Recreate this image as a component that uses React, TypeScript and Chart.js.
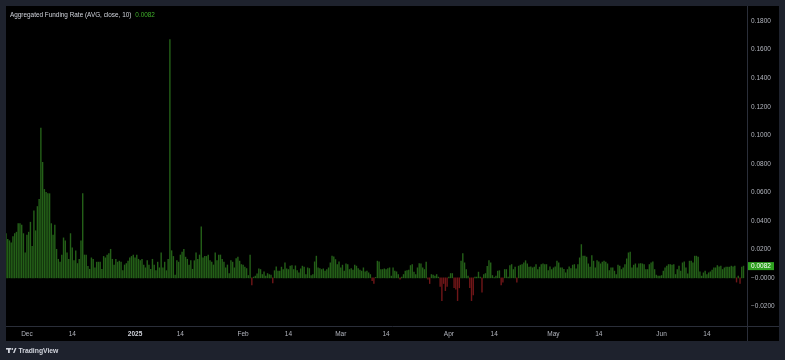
import React, { useEffect, useRef } from 'react';
import { Chart, registerables } from 'chart.js';

Chart.register(...registerables);

// 12-hour funding-rate bars, Nov 25 2024 → Jun 24 2025
const NOV = [0.031, 0.027, 0.026, 0.0245, 0.029, 0.031, 0.032, 0.038, 0.038, 0.037, 0.031, 0.0175];
const DEC = [
  0.030, 0.032, 0.039, 0.022, 0.047, 0.033, 0.050, 0.055, 0.105, 0.081,
  0.062, 0.060, 0.059, 0.059, 0.038, 0.030, 0.037, 0.020, 0.013, 0.011,
  0.016, 0.028, 0.026, 0.0175, 0.013, 0.031, 0.021, 0.012, 0.019, 0.010,
  0.013, 0.026, 0.059, 0.016, 0.016, 0.008, 0.006, 0.014, 0.013, 0.007,
  0.011, 0.011, 0.011, 0.006, 0.015, 0.014, 0.016, 0.017, 0.020, 0.013,
  0.009, 0.013, 0.011, 0.0117, 0.011, 0.005, 0.009, 0.010, 0.0117, 0.014,
  0.015, 0.016,
];
const JAN = [
  0.014, 0.016, 0.013, 0.012, 0.013, 0.009, 0.007, 0.012, 0.009, 0.006,
  0.013, 0.009, 0.005, 0.011, 0.007, 0.0175, 0.007, 0.011, 0.005, 0.013,
  0.167, 0.019, 0.015, 0.002, 0.012, 0.011, 0.016, 0.018, 0.020, 0.0145,
  0.013, 0.009, 0.012, 0.006, 0.012, 0.0175, 0.013, 0.016, 0.0357, 0.014,
  0.015, 0.015, 0.016, 0.012, 0.011, 0.009, 0.0175, 0.012, 0.016, 0.016,
  0.013, 0.011, 0.007, 0.009, 0.003, 0.012, 0.011, 0.007, 0.0135, 0.0145,
  0.0117, 0.0093,
];
const FEB = [
  0.0089, 0.0075, 0.0065, 0.0016, 0.016, -0.005, 0.0005, 0.0012, 0.0028, 0.0063,
  0.0058, 0.0023, 0.0042, 0.0012, 0.003, 0.0023, 0.0019, -0.0035, 0.005, 0.0077,
  0.0047, 0.0047, 0.0075, 0.0058, 0.0105, 0.0063, 0.0058, 0.0082, 0.0086, 0.0058,
  0.0084, 0.005, 0.0035, 0.0063, 0.0082, 0.0075, 0.0023, 0.007, 0.0065, 0.0016,
  0.0023, 0.0112, 0.0152, 0.007, 0.0065, 0.0058, 0.0063, 0.0047, 0.0058, 0.007,
  0.0105, 0.0152, 0.0147, 0.0128, 0.0093, 0.0112,
];
const MAR = [
  0.007, 0.0089, 0.0047, 0.0098, 0.0093, 0.0058, 0.0065, 0.0054, 0.0089, 0.0082,
  0.0065, 0.0054, 0.0047, 0.007, 0.0042, 0.0047, 0.0035, 0.0023, -0.002, -0.004,
  0.0003, 0.0117, 0.0112, 0.0058, 0.0058, 0.0063, 0.0058, 0.0065, 0.007, 0.0012,
  0.007, 0.0047, 0.0042, 0.0023, -0.001, 0.0005, 0.0023, 0.0047, 0.005, 0.0054,
  0.0086, 0.0093, 0.004, 0.0023, 0.007, 0.01, 0.0098, 0.007, 0.0058, 0.011,
  -0.001, -0.004, 0.0023, 0.0019, 0.0012, 0.0023, 0.0005, -0.006, -0.016, -0.004,
  -0.009, -0.006,
];
const APR = [
  0.0005, 0.003, 0.003, -0.007, -0.008, -0.016, -0.007, 0.0117, 0.017, 0.0105,
  0.0058, 0.0012, -0.007, -0.016, -0.012, 0.0005, 0.0005, 0.004, 0.0005, -0.01,
  0.0023, 0.003, 0.008, 0.012, 0.0105, 0.0016, 0.0002, 0.0012, 0.0047, 0.005,
  -0.005, -0.003, 0.0058, 0.0058, 0.0005, 0.0086, 0.0093, 0.0058, 0.0075, -0.003,
  0.0082, 0.0089, 0.0093, 0.0105, 0.012, 0.0098, 0.0075, 0.0077, 0.007, 0.0075,
  0.0093, 0.0058, 0.0075, 0.0093, 0.0098, 0.0093, 0.0093, 0.005, 0.0077, 0.0058,
];
const MAY = [
  0.007, 0.0077, 0.0117, 0.0105, 0.007, 0.007, 0.006, 0.0035, 0.0058, 0.0077,
  0.0065, 0.0089, 0.0093, 0.0063, 0.0093, 0.014, 0.0233, 0.0152, 0.0152, 0.0145,
  0.0098, 0.0075, 0.0156, 0.0117, 0.007, 0.012, 0.0112, 0.0098, 0.011, 0.0117,
  0.011, 0.0098, 0.005, 0.007, 0.007, 0.0047, 0.0023, 0.0089, 0.0082, 0.0058,
  0.007, 0.0093, 0.0133, 0.0175, 0.018, 0.007, 0.0089, 0.0098, 0.007, 0.0098,
  0.01, 0.0098, 0.0093, 0.0058, 0.0058, 0.0093, 0.0105, 0.0112, 0.0058, 0.0019,
  0.0012, 0.0012,
];
const JUN = [
  0.0016, 0.0047, 0.007, 0.0082, 0.0093, 0.0093, 0.0089, 0.0093, 0.0023, 0.0058,
  0.0082, 0.0047, 0.0105, 0.0112, 0.007, 0.0028, 0.0117, 0.0117, 0.0105, 0.0152,
  0.0152, 0.0145, 0.0042, 0.0012, 0.0035, 0.0047, 0.0023, 0.0035, 0.0042, 0.0054,
  0.007, 0.007, 0.0086, 0.0077, 0.0082, 0.0058, 0.007, 0.0075, 0.0075, 0.0075,
  0.0082, 0.0077, 0.0082, -0.003, 0.0012, -0.004, 0.0075, 0.0082,
];

const VALUES = [...NOV, ...DEC, ...JAN, ...FEB, ...MAR, ...APR, ...MAY, ...JUN];

const X_TICK_POS = [12, 38, 74, 100, 136, 162, 192, 218, 254, 280, 314, 340, 376, 402];
const X_TICK_LABELS = ['Dec', '14', '2025', '14', 'Feb', '14', 'Mar', '14', 'Apr', '14', 'May', '14', 'Jun', '14'];
const Y_TICKS = [-0.02, 0, 0.02, 0.04, 0.06, 0.08, 0.1, 0.12, 0.14, 0.16, 0.18];
const Y_TICK_LABELS = ['\u22120.0200', '\u22120.0000', '0.0200', '0.0400', '0.0600', '0.0800', '0.1000', '0.1200', '0.1400', '0.1600', '0.1800'];
const TITLE = 'Aggregated Funding Rate (AVG, close, 10)';
const LAST_LABEL = '0.0082';

const W = 785;
const H = 360;
const FRAME = '#1e222d';
const PANEL = '#000000';
const LINE = '#2a2e39';
const TEXT = '#b2b5be';
const GREEN = 'rgb(36,96,24)';
const RED = 'rgb(112,22,24)';
const FONT = "'Liberation Sans', Arial, sans-serif";

const decor = {
  id: 'decor',
  beforeDraw(chart: any) {
    const ctx = chart.ctx;
    ctx.save();
    ctx.fillStyle = FRAME;
    ctx.fillRect(0, 0, W, H);
    ctx.fillStyle = PANEL;
    ctx.fillRect(6, 6, 773, 335);
    ctx.restore();
  },
  afterDraw(chart: any) {
    const ctx = chart.ctx;
    const { right, bottom } = chart.chartArea;
    const y = chart.scales.y;
    ctx.save();
    ctx.strokeStyle = LINE;
    ctx.lineWidth = 1;
    ctx.beginPath();
    ctx.moveTo(Math.round(right) + 0.5, 6);
    ctx.lineTo(Math.round(right) + 0.5, 341);
    ctx.moveTo(6, Math.round(bottom) + 0.5);
    ctx.lineTo(779, Math.round(bottom) + 0.5);
    ctx.stroke();

    // title
    ctx.font = `6.4px ${FONT}`;
    ctx.textBaseline = 'middle';
    ctx.textAlign = 'left';
    ctx.fillStyle = '#d1d4dc';
    ctx.fillText(TITLE, 10, 15);
    const tw = ctx.measureText(TITLE).width;
    ctx.fillStyle = '#3fae2a';
    ctx.fillText(LAST_LABEL, 10 + tw + 4, 15);

    // last value label on price axis
    const last = VALUES[VALUES.length - 1];
    const py = y.getPixelForValue(last);
    ctx.fillStyle = '#2ea11f';
    ctx.fillRect(Math.round(right) + 1, py - 4, 26, 8);
    ctx.fillStyle = '#ffffff';
    ctx.font = `6.5px ${FONT}`;
    ctx.fillText(LAST_LABEL, Math.round(right) + 4, py + 0.3);

    // TradingView logo
    ctx.fillStyle = '#d1d4dc';
    ctx.fillRect(6, 348, 5, 1.6);
    ctx.fillRect(8, 348, 1.8, 5);
    ctx.beginPath();
    ctx.arc(12.3, 349, 0.9, 0, Math.PI * 2);
    ctx.fill();
    ctx.beginPath();
    ctx.moveTo(13, 353);
    ctx.lineTo(14.5, 353);
    ctx.lineTo(16.5, 348);
    ctx.lineTo(15, 348);
    ctx.closePath();
    ctx.fill();
    ctx.font = `bold 6.8px ${FONT}`;
    ctx.fillText('TradingView', 18.5, 351);
    ctx.restore();
  },
};

export default function App() {
  const ref = useRef<HTMLCanvasElement | null>(null);
  useEffect(() => {
    if (!ref.current) return;
    const chart = new Chart(ref.current, {
      type: 'bar',
      data: {
        datasets: [
          {
            data: VALUES.map((v, i) => ({ x: i, y: v })),
            backgroundColor: VALUES.map((v) => (v >= 0 ? GREEN : RED)),
            borderWidth: 0,
            barThickness: 0.75,
          },
        ],
      },
      options: {
        animation: false,
        responsive: false,
        devicePixelRatio: 1,
        layout: { padding: { left: 6, top: 6, right: 6, bottom: 19 } },
        plugins: { legend: { display: false }, tooltip: { enabled: false } },
        scales: {
          x: {
            type: 'linear',
            min: 0,
            max: 425,
            offset: false,
            grid: { display: false, drawTicks: false },
            border: { display: false },
            afterBuildTicks: (s: any) => {
              s.ticks = X_TICK_POS.map((v) => ({ value: v }));
            },
            afterFit: (s: any) => {
              s.height = 15;
            },
            ticks: {
              autoSkip: false,
              maxRotation: 0,
              padding: 4,
              color: (c: any) => (X_TICK_LABELS[c.index] === '2025' ? '#d1d4dc' : TEXT),
              font: (c: any) => ({ family: FONT, size: 6.5, weight: X_TICK_LABELS[c.index] === '2025' ? 'bold' : 'normal' }),
              callback: (_v: any, i: number) => X_TICK_LABELS[i],
            },
          },
          y: {
            position: 'right',
            min: -0.0338,
            max: 0.1893,
            grid: { display: false, drawTicks: false },
            border: { display: false },
            afterBuildTicks: (s: any) => {
              s.ticks = Y_TICKS.map((v) => ({ value: v }));
            },
            afterFit: (s: any) => {
              s.width = 32;
            },
            ticks: {
              crossAlign: 'near',
              padding: 4,
              color: TEXT,
              font: { family: FONT, size: 6.5 },
              callback: (_v: any, i: number) => Y_TICK_LABELS[i],
            },
          },
        },
      },
      plugins: [decor],
    } as any);
    return () => chart.destroy();
  }, []);
  return (
    <div style={{ position: 'fixed', left: 0, top: 0, width: W, height: H, background: FRAME }}>
      <canvas ref={ref} width={W} height={H} style={{ display: 'block', width: W, height: H }} />
    </div>
  );
}
